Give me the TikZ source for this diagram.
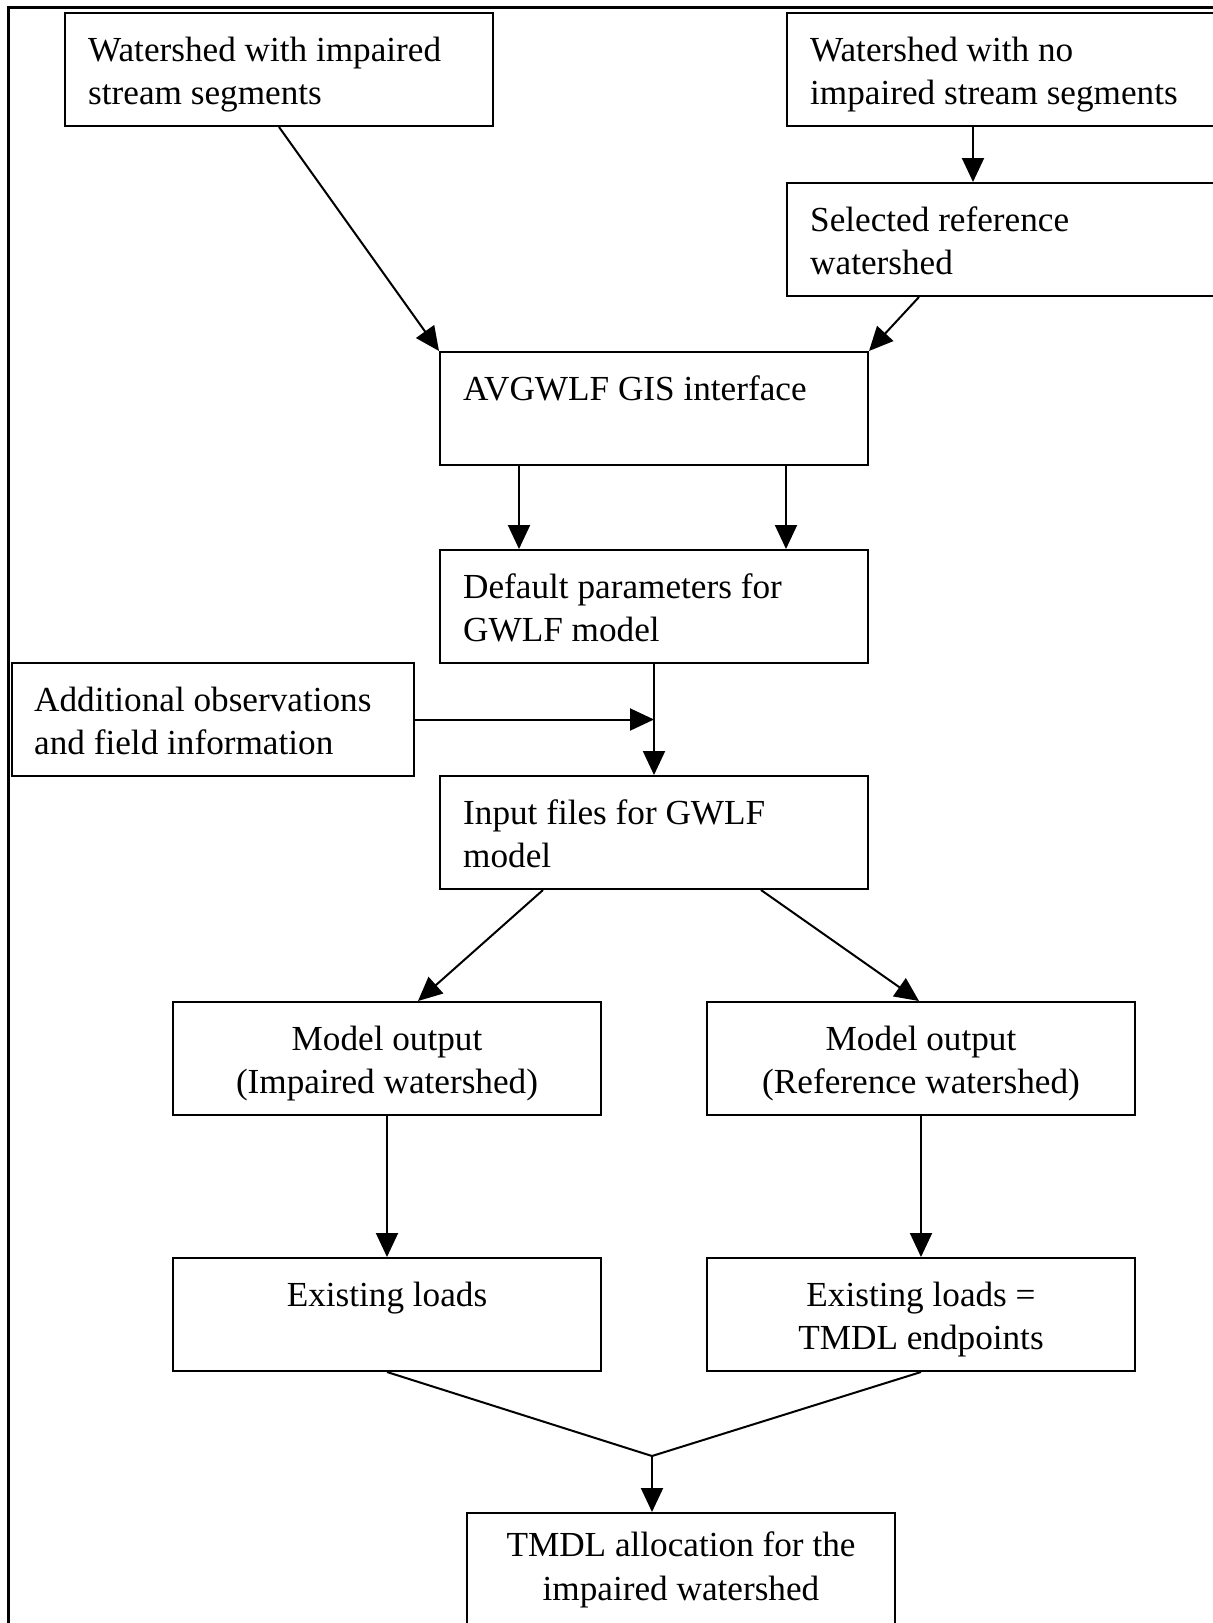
\documentclass[tikz,border=0pt]{standalone}
\usepackage{fontspec}
\setmainfont{Liberation Serif}
\usetikzlibrary{arrows.meta,calc}
\begin{document}
\begin{tikzpicture}[x=1pt,y=-1pt,
  box/.style={draw, line width=2pt, rectangle, minimum width=428pt, minimum height=113pt, anchor=north west, inner sep=0pt},
  txtl/.style={anchor=north west, inner sep=0pt, align=left, font=\fontsize{35.2}{43.5}\selectfont},
  txtc/.style={anchor=north, inner sep=0pt, align=center, font=\fontsize{35.2}{43.5}\selectfont},
  conn/.style={line width=2pt, -{Triangle[length=24pt,width=22pt]}},
  plain/.style={line width=2pt}]
\clip (0,0) rectangle (1213,1623);
\fill[white] (0,0) rectangle (1213,1623);
% outer frame
\coordinate (fbl) at (8,1640);
\coordinate (ftl) at (8,7);
\coordinate (ftr) at (1240,7);
\draw[line width=3pt] (fbl) -- (ftl) -- (ftr);
% boxes
\node[box] (b1) at (64,12) {};
\node[box] (b2) at (786,12) {};
\node[box] (b3) at (786,182) {};
\node[box] (avg) at (439,351) {};
\node[box] (def) at (439,549) {};
\node[box, minimum width=402pt] (add) at (11,662) {};
\node[box] (inp) at (439,775) {};
\node[box] (moi) at (172,1001) {};
\node[box] (mor) at (706,1001) {};
\node[box] (exi) at (172,1257) {};
\node[box] (exr) at (706,1257) {};
\node[box] (tmdl) at (466,1512) {};
% texts
\node[txtl] (b1t) at ([xshift=24pt,yshift=-18.5pt]b1.north west) {\strut Watershed with impaired\\stream segments};
\node[txtl] (b2t) at ([xshift=24pt,yshift=-18.5pt]b2.north west) {\strut Watershed with no\\impaired stream segments};
\node[txtl] (b3t) at ([xshift=24pt,yshift=-18.5pt]b3.north west) {\strut Selected reference\\watershed};
\node[txtl] (avgt) at ([xshift=24pt,yshift=-18.5pt]avg.north west) {\strut AVGWLF GIS interface};
\node[txtl] (deft) at ([xshift=24pt,yshift=-18.5pt]def.north west) {\strut Default parameters for\\GWLF model};
\node[txtl] (addt) at ([xshift=23pt,yshift=-18.5pt]add.north west) {\strut Additional observations\\and field information};
\node[txtl] (inpt) at ([xshift=24pt,yshift=-18.5pt]inp.north west) {\strut Input files for GWLF\\model};
\node[txtc] (moit) at ([yshift=-18.5pt]moi.north) {\strut Model output\\(Impaired watershed)};
\node[txtc] (mort) at ([yshift=-18.5pt]mor.north) {\strut Model output\\(Reference watershed)};
\node[txtc] (exit) at ([yshift=-18.5pt]exi.north) {\strut Existing loads};
\node[txtc] (exrt) at ([yshift=-18.5pt]exr.north) {\strut Existing loads =\\TMDL endpoints};
\node[txtc] (tmdlt) at ([yshift=-14pt]tmdl.north) {\strut TMDL allocation for the\\impaired watershed};
% connectors
\draw[conn] (b1.south) -- (avg.north west);
\draw[conn] ($(b2.south west)+(187,0)$) -- ($(b3.north west)+(187,0)$);
\draw[conn] ($(b3.south west)+(133,0)$) -- (avg.north east);
\draw[conn] ($(avg.south west)+(80,0)$) -- ($(def.north west)+(80,0)$);
\draw[conn] ($(avg.south west)+(347,0)$) -- ($(def.north west)+(347,0)$);
\draw[conn] (def.south) -- (inp.north);
\coordinate (m) at (def.south |- add.east);
\draw[conn] (add.east) -- (m);
\draw[conn] ($(inp.south west)+(104,0)$) -- ($(moi.north west)+(246,0)$);
\draw[conn] ($(inp.south west)+(322,0)$) -- ($(mor.north west)+(213,0)$);
\draw[conn] (moi.south) -- (exi.north);
\draw[conn] (mor.south) -- (exr.north);
\coordinate (j) at (652,1456);
\draw[plain] (exi.south) -- (j) -- (exr.south);
\draw[conn] (j) -- (j |- tmdl.north);
\end{tikzpicture}
\end{document}
